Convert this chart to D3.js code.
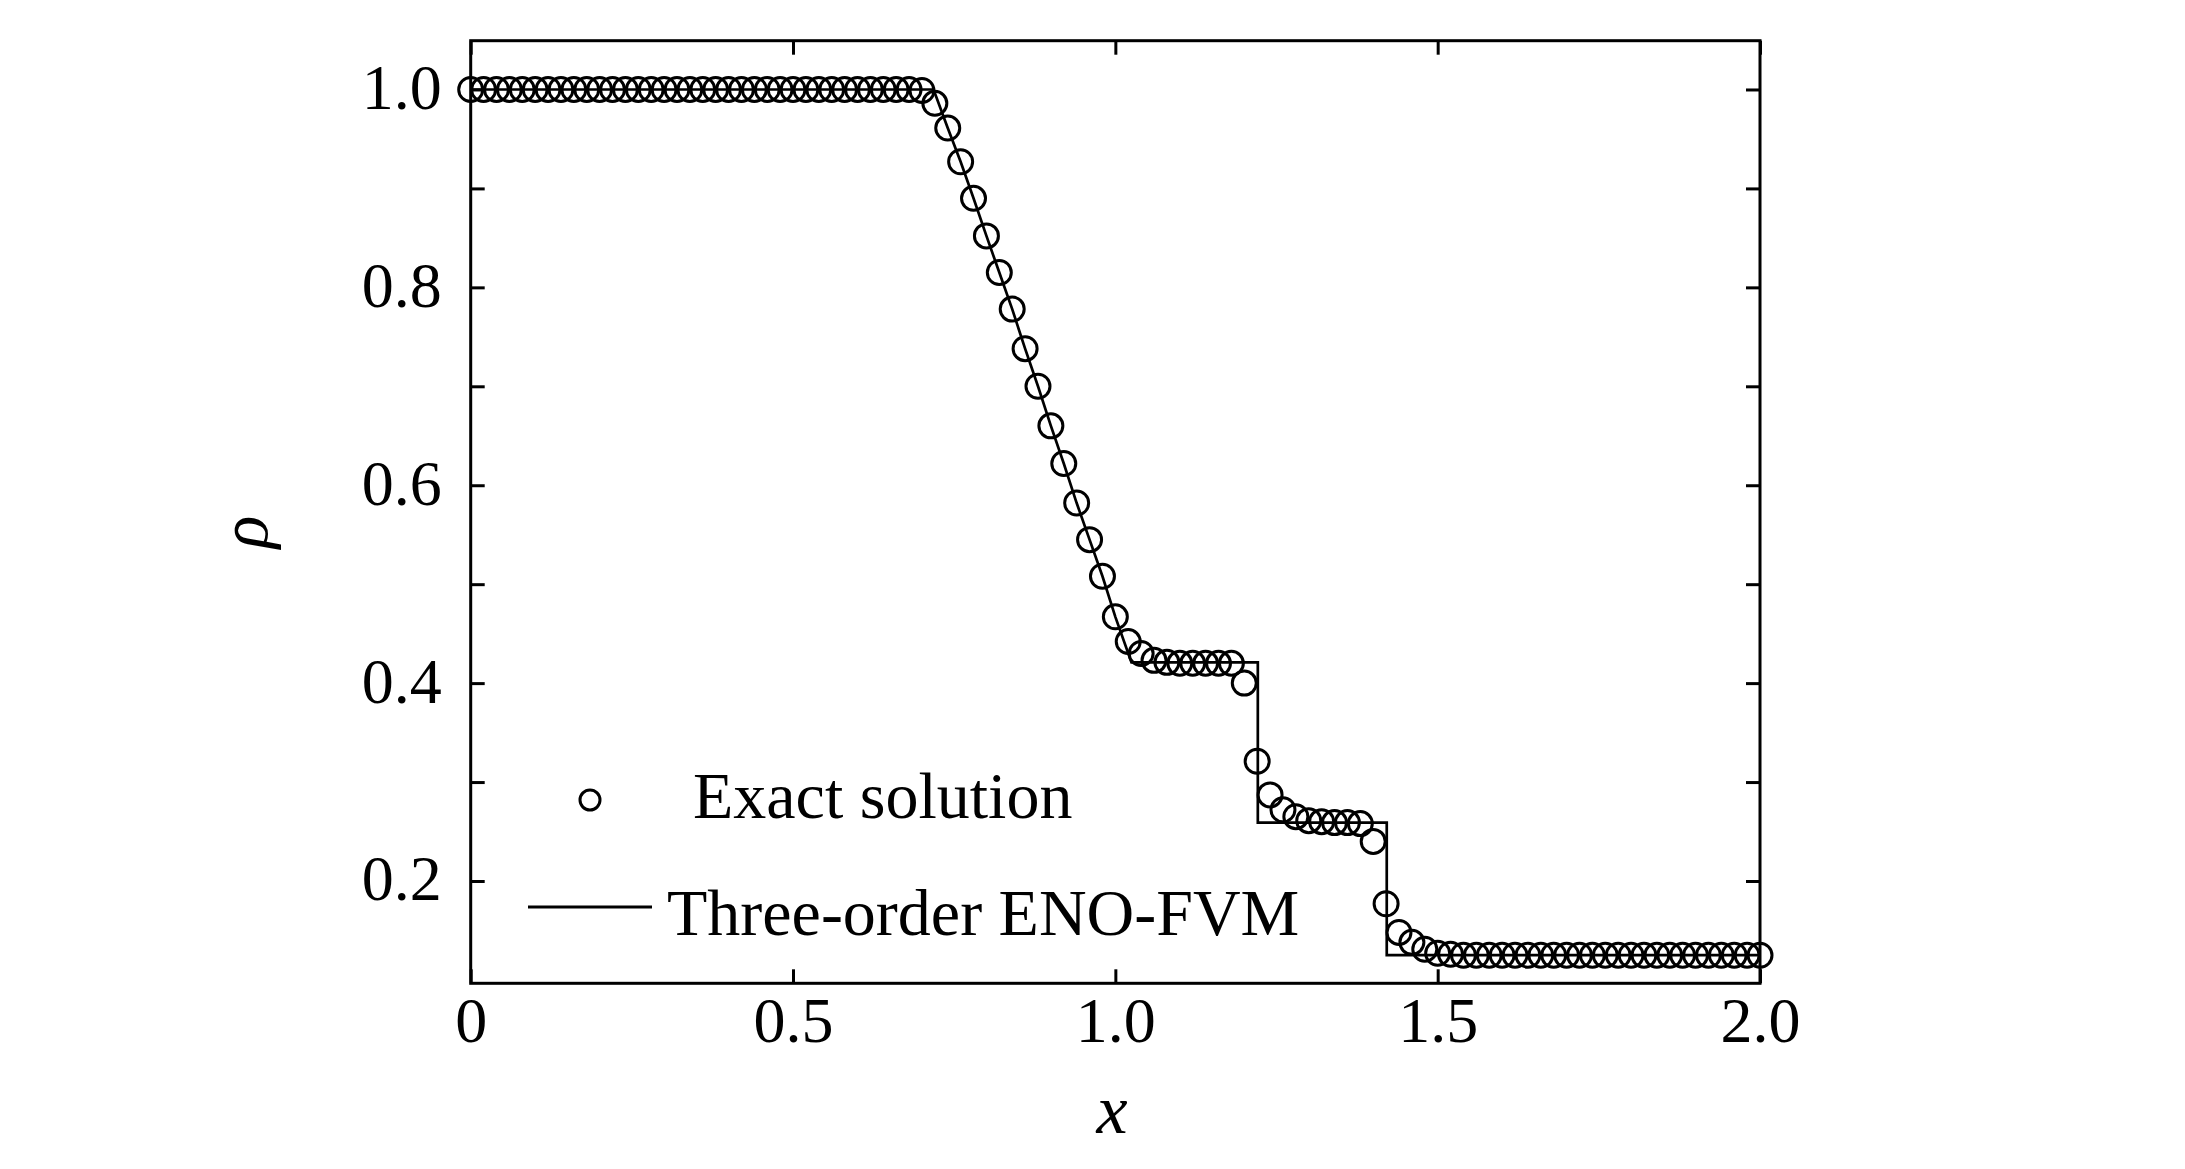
<!DOCTYPE html>
<html>
<head>
<meta charset="utf-8">
<script src="https://cdn.jsdelivr.net/npm/d3@7"></script>
<style>
  html, body { margin: 0; padding: 0; background: #fff; }
  svg { display: block; }
  text { font-family: "Liberation Serif", "DejaVu Serif", serif; fill: #000; }
</style>
</head>
<body>
<svg id="chart" width="2185" height="1169"></svg>
<script>
// ---------- data ----------
// x positions of the circle markers (Exact solution), step 0.02 from 0 to 2
const exactX = d3.range(0, 101).map(i => +(i * 0.02).toFixed(2));
// density values
const exactRho = [
  1.0, 1.0, 1.0, 1.0, 1.0, 1.0, 1.0, 1.0, 1.0, 1.0,
  1.0, 1.0, 1.0, 1.0, 1.0, 1.0, 1.0, 1.0, 1.0, 1.0,
  1.0, 1.0, 1.0, 1.0, 1.0, 1.0, 1.0, 1.0, 1.0, 1.0,
  1.0, 1.0, 1.0, 1.0, 1.0, 0.999, 0.986, 0.961, 0.927, 0.890,
  0.852, 0.815, 0.778, 0.738, 0.700, 0.660, 0.622, 0.582, 0.545, 0.508,
  0.467, 0.442, 0.430, 0.423, 0.421, 0.420, 0.420, 0.420, 0.420, 0.420,
  0.400, 0.321, 0.287, 0.272, 0.265, 0.261, 0.260, 0.259, 0.259, 0.258,
  0.240, 0.177, 0.148, 0.138, 0.131, 0.127, 0.126, 0.125, 0.125, 0.125,
  0.125, 0.125, 0.125, 0.125, 0.125, 0.125, 0.125, 0.125, 0.125, 0.125,
  0.125, 0.125, 0.125, 0.125, 0.125, 0.125, 0.125, 0.125, 0.125, 0.125,
  0.125
];
// line (Three-order ENO-FVM)
const enoX   = [0, 0.718, 0.74, 0.76, 0.78, 0.80, 0.82, 0.84, 0.86, 0.88, 0.90, 0.92, 0.94, 0.96, 0.98, 1.00, 1.025, 1.221, 1.221, 1.421, 1.421, 2.0];
const enoRho = [1.0, 1.0, 0.961, 0.927, 0.890, 0.852, 0.815, 0.778, 0.738, 0.700, 0.660, 0.622, 0.582, 0.545, 0.508, 0.467, 0.421, 0.421, 0.259, 0.259, 0.125, 0.125];

const xTicks = [0, 0.5, 1.0, 1.5, 2.0];
const xTickLabels = ["0", "0.5", "1.0", "1.5", "2.0"];
const yTicks = [0.2, 0.3, 0.4, 0.5, 0.6, 0.7, 0.8, 0.9, 1.0];
const yTickLabels = ["0.2", "", "0.4", "", "0.6", "", "0.8", "", "1.0"];
const seriesNames = ["Exact solution", "Three-order ENO-FVM"];
const xTitle = "x";
const yTitle = "ρ";

// ---------- layout ----------
const L = 470.7, R = 1760, T = 40.7, B = 983.3;
const svg = d3.select("#chart");
svg.append("rect").attr("width", 2185).attr("height", 1169).attr("fill", "#fff");

const x = d3.scaleLinear().domain([0, 2]).range([L, R]);
const y = d3.scaleLinear().domain([0.0966, 1.0493]).range([B, T]);

const TICK = 14;
const FS = 64;

// ticks (inward on all four sides)
const leftAx = svg.append("g").attr("transform", `translate(${L},0)`)
  .call(d3.axisLeft(y).tickValues(yTicks).tickSize(-TICK).tickPadding(29)
    .tickFormat((d, i) => yTickLabels[i]));
const rightAx = svg.append("g").attr("transform", `translate(${R},0)`)
  .call(d3.axisRight(y).tickValues(yTicks).tickSize(-TICK).tickFormat(""));
const botAx = svg.append("g").attr("transform", `translate(0,${B})`)
  .call(d3.axisBottom(x).tickValues(xTicks).tickSize(-TICK).tickPadding(10)
    .tickFormat((d, i) => xTickLabels[i]));
const topAx = svg.append("g").attr("transform", `translate(0,${T})`)
  .call(d3.axisTop(x).tickValues(xTicks).tickSize(-TICK).tickFormat(""));

[leftAx, rightAx, botAx, topAx].forEach(g => {
  g.select(".domain").remove();
  g.selectAll(".tick line").attr("stroke", "#000").attr("stroke-width", 3);
  g.selectAll("text").attr("font-family", '"Liberation Serif", "DejaVu Serif", serif')
    .attr("font-size", FS).attr("fill", "#000");
});
leftAx.selectAll(".tick text").attr("dy", null).attr("y", 19);
botAx.selectAll(".tick text").attr("dy", null).attr("y", 59);

// frame
svg.append("rect").attr("x", L).attr("y", T).attr("width", R - L).attr("height", B - T)
  .attr("fill", "none").attr("stroke", "#000").attr("stroke-width", 3);

// line series
const lineData = enoX.map((v, i) => [v, enoRho[i]]);
svg.append("path").datum(lineData)
  .attr("fill", "none").attr("stroke", "#000").attr("stroke-width", 2.7)
  .attr("d", d3.line().x(d => x(d[0])).y(d => y(d[1])));

// circle series
const ptData = exactX.map((v, i) => [v, exactRho[i]]);
svg.append("g").selectAll("circle").data(ptData).join("circle")
  .attr("cx", d => x(d[0])).attr("cy", d => y(d[1])).attr("r", 12)
  .attr("fill", "none").attr("stroke", "#000").attr("stroke-width", 3);

// legend
svg.append("circle").attr("cx", 590).attr("cy", 800).attr("r", 10)
  .attr("fill", "none").attr("stroke", "#000").attr("stroke-width", 3);
svg.append("text").attr("x", 693).attr("y", 818).attr("font-size", 66).text(seriesNames[0]);
svg.append("line").attr("x1", 528).attr("x2", 652).attr("y1", 907).attr("y2", 907)
  .attr("stroke", "#000").attr("stroke-width", 3);
svg.append("text").attr("x", 667).attr("y", 935).attr("font-size", 66).text(seriesNames[1]);

// axis titles
svg.append("text").attr("x", 1112).attr("y", 1133).attr("text-anchor", "middle")
  .attr("font-size", 70).attr("font-style", "italic").text(xTitle);
svg.append("text").attr("transform", "translate(267,532) rotate(-90)")
  .attr("text-anchor", "middle").attr("font-size", 68).attr("font-style", "italic").text(yTitle);
</script>
</body>
</html>
